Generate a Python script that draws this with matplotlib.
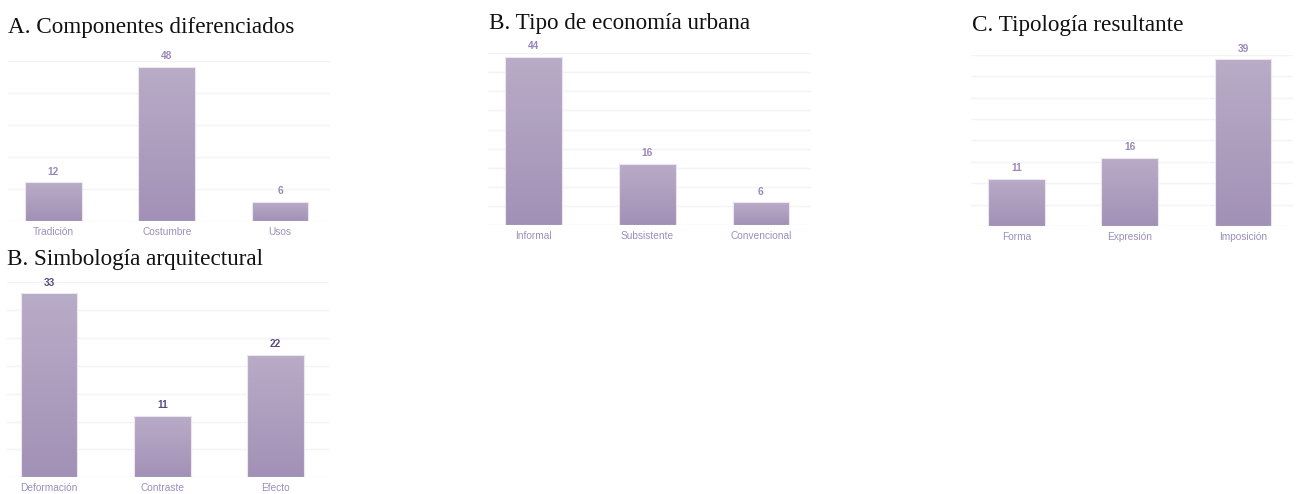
import numpy as np
import matplotlib.pyplot as plt
from matplotlib.colors import LinearSegmentedColormap

# data
cats_a = ['Tradición', 'Costumbre', 'Usos']
vals_a = [12, 48, 6]
cats_b = ['Informal', 'Subsistente', 'Convencional']
vals_b = [44, 16, 6]
cats_c = ['Forma', 'Expresión', 'Imposición']
vals_c = [11, 16, 39]
cats_d = ['Deformación', 'Contraste', 'Efecto']
vals_d = [33, 11, 22]

W, H = 1299, 494
fig = plt.figure(figsize=(W / 100, H / 100), dpi=100)

grad = LinearSegmentedColormap.from_list('g', ['#a291b6', '#b9acc7'])
tick_col = '#9d8fba'


def px_axes(x0, x1, top, bottom):
    return fig.add_axes([x0 / W, 1 - bottom / H, (x1 - x0) / W, (bottom - top) / H])


def panel(ax, cats, vals, ymax, step, lab_col, xlim=(-0.4, 2.44)):
    x = np.arange(len(cats))
    bars = ax.bar(x, vals, width=0.5, color='none', edgecolor='#ece6f1', linewidth=0.8, zorder=3)
    g = np.linspace(0, 1, 256).reshape(-1, 1)
    for b in bars:
        im = ax.imshow(g, cmap=grad, origin='lower', aspect='auto', zorder=2,
                       extent=[b.get_x(), b.get_x() + b.get_width(), 0, b.get_height()])
        im.set_clip_path(b)
    for xi, v in zip(x, vals):
        ax.annotate(str(v), (xi, v), xytext=(0, 4), textcoords='offset points',
                    ha='center', va='bottom', fontsize=7.3, fontweight='bold',
                    color=lab_col, family='Liberation Sans')
    ax.set_xlim(*xlim)
    ax.set_ylim(0, ymax)
    ax.set_yticks(np.arange(0, ymax + 0.1, step))
    ax.set_yticklabels([])
    ax.grid(axis='y', color='#f3f2f4', linewidth=1, zorder=0)
    ax.set_axisbelow(True)
    ax.tick_params(length=0, pad=4)
    ax.set_xticks(x)
    ax.set_xticklabels(cats, fontsize=7.3, color=tick_col, family='Liberation Sans')
    for s in ax.spines.values():
        s.set_visible(False)


ax1 = px_axes(8, 330, 60.5, 221)
panel(ax1, cats_a, vals_a, 50, 10, '#9a89b8')
ax2 = px_axes(488, 811, 52.9, 225.3)
panel(ax2, cats_b, vals_b, 45, 5, '#9a89b8')
ax3 = px_axes(971, 1293, 55, 226)
panel(ax3, cats_c, vals_c, 40, 5, '#9a89b8')
ax4 = px_axes(7, 329, 282, 477.3)
panel(ax4, cats_d, vals_d, 35, 5, '#5b4a80', xlim=(-0.37, 2.47))

# titles
tkw = dict(fontsize=16.7, family='Liberation Serif', color='#111111', va='baseline')
fig.text(8 / W, 1 - 33 / H, 'A. Componentes diferenciados', **tkw)
fig.text(489 / W, 1 - 29.3 / H, 'B. Tipo de economía urbana', **tkw)
fig.text(972 / W, 1 - 30.7 / H, 'C. Tipología resultante', **tkw)
fig.text(7 / W, 1 - 265 / H, 'B. Simbología arquitectural', **tkw)

fig.savefig('out.png', dpi=100)
